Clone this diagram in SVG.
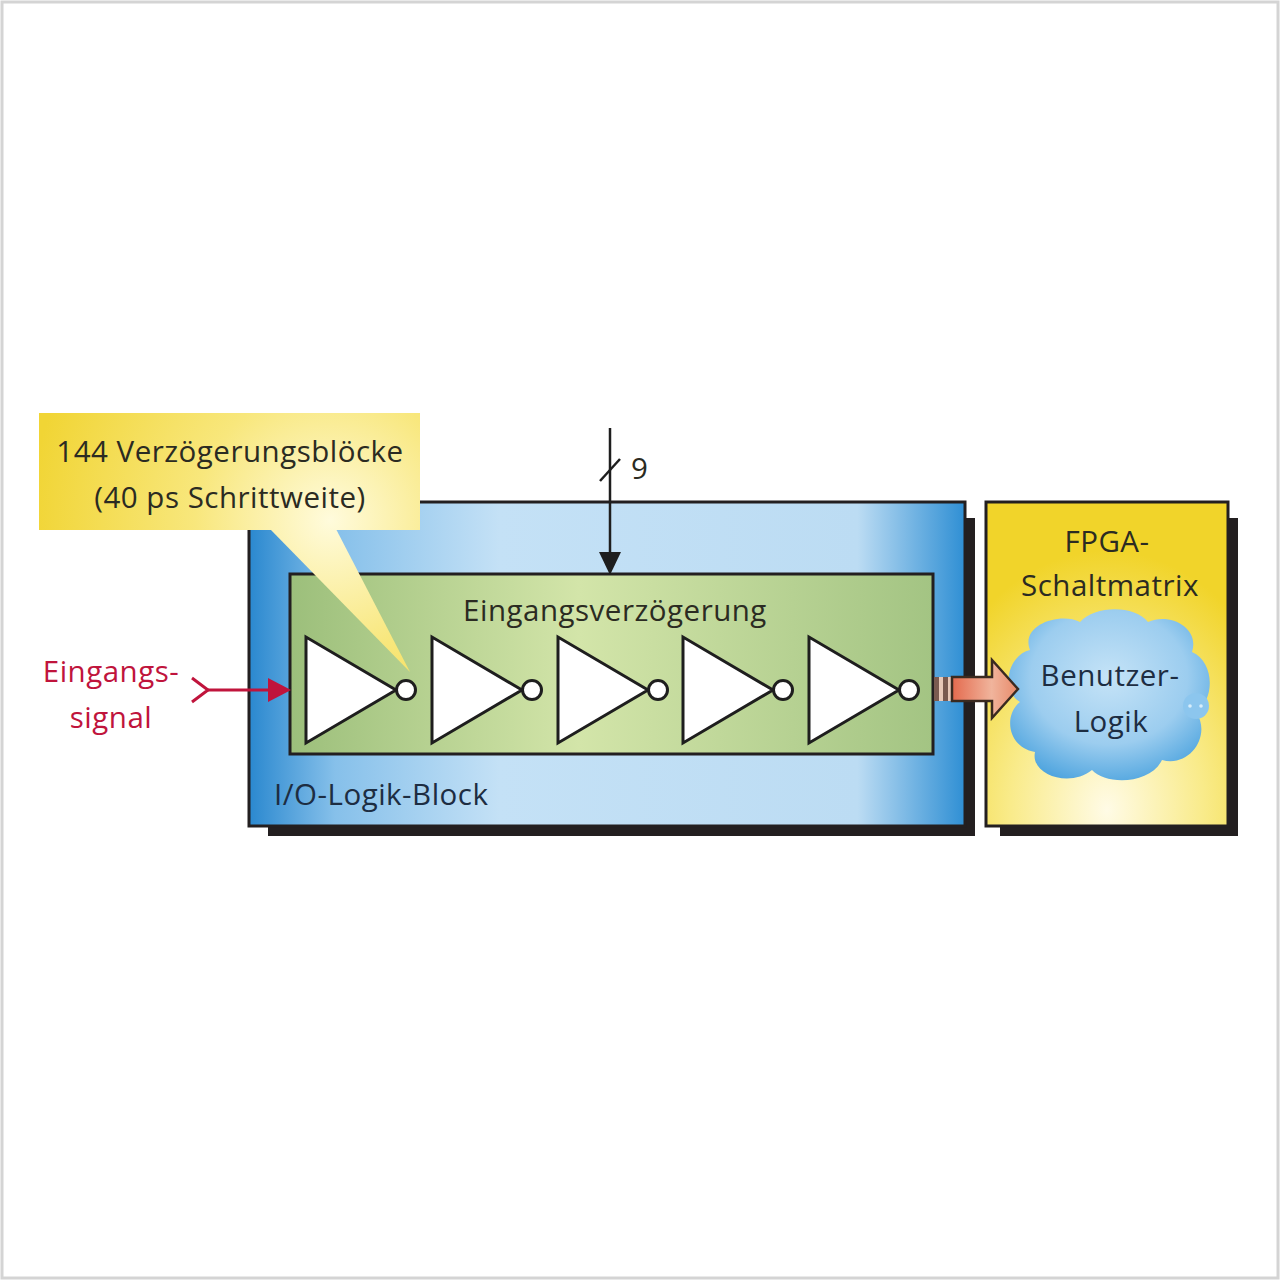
<svg xmlns="http://www.w3.org/2000/svg" width="1280" height="1280" viewBox="0 0 1280 1280">
<defs>
<linearGradient id="gBlue" x1="0" y1="0" x2="1" y2="0">
<stop offset="0" stop-color="#2a88cf"/>
<stop offset="0.12" stop-color="#86c0ea"/>
<stop offset="0.35" stop-color="#c4e1f6"/>
<stop offset="0.85" stop-color="#bcdcf3"/>
<stop offset="1" stop-color="#2f8fd4"/>
</linearGradient>
<linearGradient id="gGreen" x1="0" y1="0" x2="1" y2="0">
<stop offset="0" stop-color="#9cbf7b"/>
<stop offset="0.45" stop-color="#d3e5a9"/>
<stop offset="1" stop-color="#a3c483"/>
</linearGradient>
<radialGradient id="gYellow" cx="0.5" cy="0.95" r="0.8">
<stop offset="0" stop-color="#fffbe6"/>
<stop offset="0.5" stop-color="#f9eb8a"/>
<stop offset="1" stop-color="#f1d42a"/>
</radialGradient>
<radialGradient id="gCallout" gradientUnits="userSpaceOnUse" cx="330" cy="520" r="300">
<stop offset="0" stop-color="#fffbdc"/>
<stop offset="0.45" stop-color="#f8e77c"/>
<stop offset="1" stop-color="#f1d535"/>
</radialGradient>
<radialGradient id="gCloud" cx="0.5" cy="0.4" r="0.65">
<stop offset="0" stop-color="#c5e3f7"/>
<stop offset="0.6" stop-color="#9ccdef"/>
<stop offset="1" stop-color="#4ca3de"/>
</radialGradient>
<linearGradient id="gOrange" x1="0" y1="0" x2="1" y2="0">
<stop offset="0" stop-color="#e46a4e"/>
<stop offset="0.6" stop-color="#f0b49c"/>
<stop offset="1" stop-color="#e88a6a"/>
</linearGradient>
<style>
.txt{font-family:"Open Sans","Noto Sans",sans-serif;font-size:29.5px;letter-spacing:0.5px;fill:#2b2b22}
.red{fill:#c0143c}
.dark{fill:#1d2d42}
.inv{fill:#ffffff;stroke:#1e1e1e;stroke-width:3;stroke-linejoin:miter}
.box{stroke:#231f20;stroke-width:3}
</style>
</defs>
<rect x="2" y="2" width="1276" height="1276" fill="#ffffff" stroke="#d4d4d4" stroke-width="3"/>

<g id="io-block">
<rect x="268" y="518" width="707" height="318" fill="#231f20"/>
<rect x="249" y="502" width="716" height="324" fill="url(#gBlue)" class="box"/>
<text x="274" y="805" class="txt dark">I/O-Logik-Block</text>
</g>

<g id="fpga">
<rect x="1000" y="518" width="238" height="318" fill="#231f20"/>
<rect x="986" y="502" width="242" height="324" fill="url(#gYellow)" class="box"/>
<text x="1107" y="552" class="txt" text-anchor="middle">FPGA-</text>
<text x="1110" y="596" class="txt" text-anchor="middle">Schaltmatrix</text>
</g>

<g id="benutzer-logik">
<path d="M1030,650 C1020,625 1060,612 1080,622 C1095,605 1135,605 1148,622 C1170,612 1200,628 1192,652 C1215,662 1215,700 1196,712 C1212,735 1190,768 1162,760 C1150,785 1105,785 1092,770 C1070,788 1030,775 1035,752 C1008,748 1003,715 1020,702 C1000,690 1008,655 1030,650 Z" fill="url(#gCloud)"/>
<circle cx="1196" cy="706" r="13" fill="#8cc6ee"/>
<circle cx="1190" cy="706" r="1.8" fill="#d8eefb"/>
<circle cx="1201" cy="706" r="1.8" fill="#d8eefb"/>
<text x="1110" y="686" class="txt dark" text-anchor="middle">Benutzer-</text>
<text x="1111" y="732" class="txt dark" text-anchor="middle">Logik</text>
</g>

<g id="eingangsverzoegerung">
<rect x="290" y="574" width="643" height="180" fill="url(#gGreen)" class="box"/>
<text x="615" y="621" class="txt" text-anchor="middle">Eingangsverzögerung</text>
<polygon class="inv" points="306,637 306,743 396,690"/>
<circle class="inv" cx="406" cy="690" r="9.5"/>
<polygon class="inv" points="432,637 432,743 522,690"/>
<circle class="inv" cx="532" cy="690" r="9.5"/>
<polygon class="inv" points="558,637 558,743 648,690"/>
<circle class="inv" cx="658" cy="690" r="9.5"/>
<polygon class="inv" points="683,637 683,743 773,690"/>
<circle class="inv" cx="783" cy="690" r="9.5"/>
<polygon class="inv" points="809,637 809,743 899,690"/>
<circle class="inv" cx="909" cy="690" r="9.5"/>
</g>

<g id="callout">
<polygon points="270,529 336,529 410,672" fill="url(#gCallout)"/>
<rect x="39" y="413" width="381" height="117" fill="url(#gCallout)"/>
<text x="230" y="462" class="txt" text-anchor="middle">144 Verzögerungsblöcke</text>
<text x="230" y="508" class="txt" text-anchor="middle">(40 ps Schrittweite)</text>
</g>

<g id="eingangssignal">
<text x="111" y="682" class="txt red" text-anchor="middle">Eingangs-</text>
<text x="111" y="728" class="txt red" text-anchor="middle">signal</text>
</g>

<g id="connectors">
<path d="M192,678 L208,690 L192,702" fill="none" stroke="#c0143c" stroke-width="3"/>
<line x1="206" y1="690" x2="270" y2="690" stroke="#c0143c" stroke-width="3"/>
<polygon points="268,678 291,690 268,702" fill="#c0143c"/>

<line x1="610" y1="428" x2="610" y2="556" stroke="#1e1e1e" stroke-width="2.5"/>
<polygon points="599,552 621,552 610,575" fill="#1e1e1e"/>
<line x1="600" y1="481" x2="620" y2="459" stroke="#1e1e1e" stroke-width="2.5"/>
<text x="631" y="479" class="txt" font-size="26">9</text>

<g id="output-arrow">
<rect x="934" y="677" width="5" height="24" fill="#7a5a50"/>
<rect x="939" y="677" width="4" height="24" fill="#e8c8b8"/>
<rect x="943" y="677" width="5" height="24" fill="#7a5a50"/>
<rect x="948" y="677" width="4" height="24" fill="#e8c8b8"/>
<path d="M952,677 L992,677 L992,660 L1018,689 L992,718 L992,701 L952,701 Z" fill="url(#gOrange)" stroke="#3a2a20" stroke-width="2.5" stroke-linejoin="miter"/>
</g>
</g>
</svg>
